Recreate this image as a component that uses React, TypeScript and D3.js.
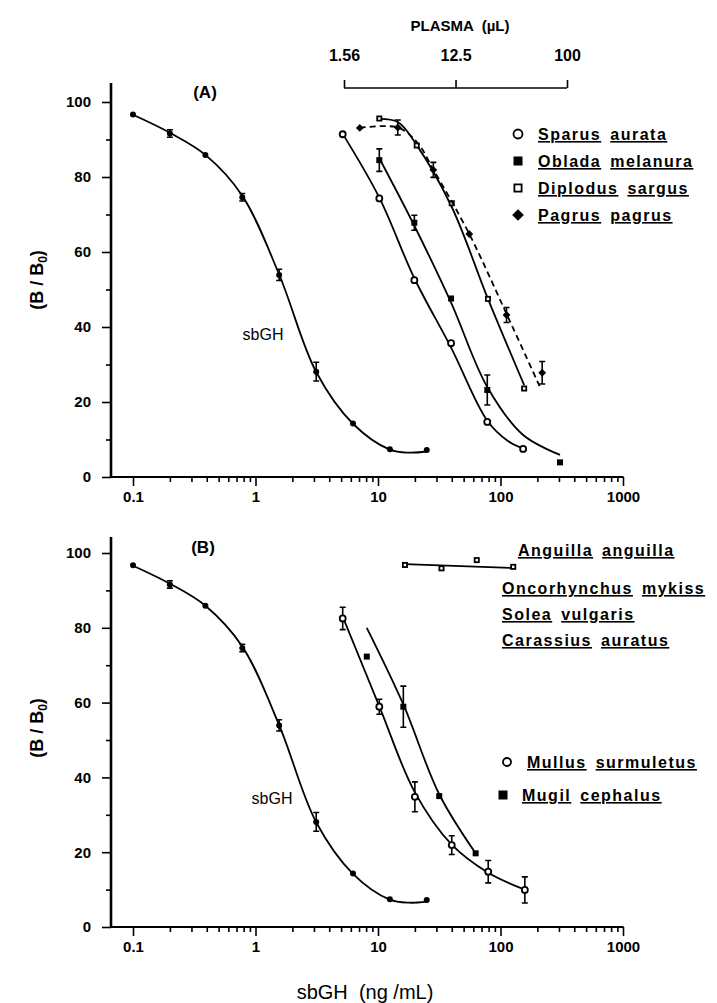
import React, { useEffect, useRef } from "react";
import * as d3 from "d3";

const W = 717;
const H = 1003;
const FONT = "'Liberation Sans', Arial, Helvetica, sans-serif";

// sbGH standard curve (same in both panels)
const sbghDose = [0.1, 0.2, 0.39, 0.78, 1.56, 3.13, 6.25, 12.5, 25];
const sbghB = [96.7, 91.6, 85.9, 74.6, 53.9, 28.1, 14.3, 7.4, 7.2];
const sbghErr = [0, 1, 0, 1, 1.5, 2.5, 0, 0, 0];
const sbghFitX = [0.1, 0.2, 0.39, 0.78, 1.56, 3.13, 6.25, 12.5, 18, 25];
const sbghFitY = [96.6, 91.8, 85.9, 75, 54, 28, 14.2, 7.3, 6.5, 6.8];

// panel A species (plasma dilutions, plotted on ng/mL scale)
const sparusDose = [5.15, 10.25, 19.8, 39.5, 78, 153];
const sparusB = [91.4, 74.3, 52.5, 35.7, 14.7, 7.5];
const sparusFitX = [5.15, 10.25, 19.8, 39.5, 78, 115, 153];
const sparusFitY = [91.5, 74.5, 53, 34.5, 15, 9.6, 7.6];

const obladaDose = [10.25, 19.8, 39.5, 78, 306];
const obladaB = [84.5, 67.8, 47.6, 23.2, 3.9];
const obladaErr = [3, 2, 0, 4, 0];
const obladaFitX = [10.25, 19.8, 39.5, 78, 153, 306];
const obladaFitY = [85, 67, 46.5, 24, 11.2, 5.9];

const diplodusDose = [10.25, 20.7, 40, 79, 156];
const diplodusB = [95.6, 88.4, 73, 47.5, 23.6];
const diplodusFitX = [10.25, 14.6, 20.7, 40, 79, 156];
const diplodusFitY = [95.5, 94.6, 88.5, 72, 47.5, 24.5];

const pagrusDose = [7.1, 14.5, 28.3, 55.6, 112, 219];
const pagrusB = [93.1, 93.2, 81.9, 64.8, 43.2, 27.8];
const pagrusErr = [0, 2, 2, 0, 2, 3];
const pagrusFitX = [7.1, 14.5, 20.9, 28.3, 55.6, 112, 210];
const pagrusFitY = [93.1, 93.2, 89.2, 82, 64.8, 43.5, 24];

// panel B species
const flatDose = [16.6, 33, 64, 127];
const flatB = [96.8, 95.9, 98.1, 96.3];
const flatFitX = [16.6, 127];
const flatFitY = [97, 96];

const mullusDose = [5.15, 10.25, 20, 40, 79.4, 158];
const mullusB = [82.5, 58.9, 34.8, 21.9, 14.8, 9.9];
const mullusErr = [3, 2, 4, 2.5, 3, 3.5];
const mullusFitX = [5.15, 10.25, 20, 40, 79.4, 158];
const mullusFitY = [83, 59, 36, 22, 14.5, 10];

const mugilDose = [8.1, 16.1, 31.6, 62.7];
const mugilB = [72.3, 58.9, 35, 19.7];
const mugilErr = [0, 5.5, 0, 0];
const mugilFitX = [8.1, 16.1, 31.6, 62.7];
const mugilFitY = [80, 59.5, 35.5, 19.7];

const xMajor = [0.1, 1, 10, 100, 1000];
const yMajor = [0, 20, 40, 60, 80, 100];
const yMinor = [10, 30, 50, 70, 90];
const plasmaTicks = [1.56, 12.5, 100];

const legendA = [
  ["Sparus", "aurata"],
  ["Oblada", "melanura"],
  ["Diplodus", "sargus"],
  ["Pagrus", "pagrus"],
];
const legendAMarker = ["openCircle", "filledSquare", "openSquare", "filledDiamond"];
const speciesListB = [
  ["Anguilla", "anguilla"],
  ["Oncorhynchus", "mykiss"],
  ["Solea", "vulgaris"],
  ["Carassius", "auratus"],
];
const legendB = [
  ["Mullus", "surmuletus"],
  ["Mugil", "cephalus"],
];

const zip = (xs: number[], ys: number[]) => xs.map((d, i) => [d, ys[i]]);

function marker(g: any, type: string, cx: number, cy: number, s: number) {
  if (type === "openCircle") {
    g.append("circle").attr("cx", cx).attr("cy", cy).attr("r", s / 2)
      .attr("fill", "#fff").attr("stroke", "#000").attr("stroke-width", 1.8);
  } else if (type === "filledCircle") {
    g.append("circle").attr("cx", cx).attr("cy", cy).attr("r", s / 2).attr("fill", "#000");
  } else if (type === "filledSquare") {
    g.append("rect").attr("x", cx - s / 2).attr("y", cy - s / 2).attr("width", s).attr("height", s).attr("fill", "#000");
  } else if (type === "openSquare") {
    g.append("rect").attr("x", cx - s / 2 + 0.9).attr("y", cy - s / 2 + 0.9).attr("width", s - 1.8).attr("height", s - 1.8)
      .attr("fill", "#fff").attr("stroke", "#000").attr("stroke-width", 1.8);
  } else if (type === "filledDiamond") {
    const r = s * 0.65;
    g.append("path").attr("d", `M${cx},${cy - r}L${cx + r},${cy}L${cx},${cy + r}L${cx - r},${cy}Z`).attr("fill", "#000");
  }
}

function underlinedLabel(g: any, words: string[], x: number, y: number) {
  const t = g.append("text").attr("x", x).attr("y", y)
    .attr("font-family", FONT).attr("font-size", 16).attr("font-weight", "bold")
    .attr("letter-spacing", 1.5).attr("fill", "#000");
  words.forEach((w, i) => {
    t.append("tspan").attr("dx", i === 0 ? 0 : 9).style("text-decoration", "underline").text(w);
  });
}

const App = () => {
  const ref = useRef<SVGSVGElement>(null);

  useEffect(() => {
    const svg = d3.select(ref.current);
    svg.selectAll("*").remove();

    const x = d3.scaleLog().domain([0.1, 1000]).range([133, 623]);
    const xMinor: number[] = [];
    [-1, 0, 1, 2].forEach((e) => {
      for (let m = 2; m <= 9; m++) xMinor.push(m * Math.pow(10, e));
    });
    const line = d3.line<number[]>().curve(d3.curveCatmullRom.alpha(0.5));

    const panels = [
      {
        zero: 477, top100: 102, axisTop: 83, name: "(A)", nameX: 205, nameY: 98,
        sbghX: 263, sbghY: 340, titleY: 280,
        series: [
          { dose: sbghDose, b: sbghB, err: sbghErr, fx: sbghFitX, fy: sbghFitY, m: "filledCircle", dash: false },
          { dose: sparusDose, b: sparusB, err: null, fx: sparusFitX, fy: sparusFitY, m: "openCircle", dash: false },
          { dose: obladaDose, b: obladaB, err: obladaErr, fx: obladaFitX, fy: obladaFitY, m: "filledSquare", dash: false },
          { dose: diplodusDose, b: diplodusB, err: null, fx: diplodusFitX, fy: diplodusFitY, m: "openSquare", dash: false },
          { dose: pagrusDose, b: pagrusB, err: pagrusErr, fx: pagrusFitX, fy: pagrusFitY, m: "filledDiamond", dash: true },
        ],
      },
      {
        zero: 927, top100: 553, axisTop: 537, name: "(B)", nameX: 203, nameY: 553,
        sbghX: 272, sbghY: 804, titleY: 728,
        series: [
          { dose: sbghDose, b: sbghB, err: sbghErr, fx: sbghFitX, fy: sbghFitY, m: "filledCircle", dash: false },
          { dose: flatDose, b: flatB, err: null, fx: flatFitX, fy: flatFitY, m: "openSquare", dash: false },
          { dose: mullusDose, b: mullusB, err: mullusErr, fx: mullusFitX, fy: mullusFitY, m: "openCircle", dash: false },
          { dose: mugilDose, b: mugilB, err: mugilErr, fx: mugilFitX, fy: mugilFitY, m: "filledSquare", dash: false },
        ],
      },
    ];

    panels.forEach((p) => {
      const y = d3.scaleLinear().domain([0, 100]).range([p.zero, p.top100]);
      const g = svg.append("g");

      // axes
      const yAx = g.append("g").attr("transform", "translate(111,0)");
      yAx.call(d3.axisLeft(y).tickValues(yMajor).tickSize(9).tickPadding(11).tickFormat((d: any) => String(d)));
      yAx.append("g").call(d3.axisLeft(y).tickValues(yMinor).tickSize(5).tickFormat(() => ""));
      yAx.selectAll(".domain").remove();
      yAx.selectAll("line").attr("stroke-width", 1.6);
      yAx.selectAll("text").attr("font-family", FONT).attr("font-size", 15).attr("font-weight", "bold").attr("fill", "#000");

      const xAx = g.append("g").attr("transform", `translate(0,${p.zero})`);
      xAx.call(d3.axisBottom(x).tickValues(xMajor).tickSize(9).tickPadding(5).tickFormat((d: any) => String(d)));
      xAx.append("g").call(d3.axisBottom(x).tickValues(xMinor).tickSize(5).tickFormat(() => ""));
      xAx.selectAll(".domain").remove();
      xAx.selectAll("line").attr("stroke-width", 1.6);
      xAx.selectAll("text").attr("font-family", FONT).attr("font-size", 15).attr("font-weight", "bold").attr("fill", "#000");

      g.append("line").attr("x1", 111).attr("x2", 111).attr("y1", p.axisTop).attr("y2", p.zero + 1)
        .attr("stroke", "#000").attr("stroke-width", 2.6);
      g.append("line").attr("x1", 110).attr("x2", 623.5).attr("y1", p.zero).attr("y2", p.zero)
        .attr("stroke", "#000").attr("stroke-width", 2.2);

      // y title
      const yt = g.append("text").attr("transform", `translate(43,${p.titleY}) rotate(-90)`)
        .attr("text-anchor", "middle").attr("font-family", FONT).attr("font-size", 18).attr("font-weight", "bold");
      yt.append("tspan").text("(B / B");
      yt.append("tspan").attr("font-size", 12).attr("dy", 4).text("0");
      yt.append("tspan").attr("dy", -4).text(")");

      g.append("text").attr("x", p.nameX).attr("y", p.nameY).attr("text-anchor", "middle")
        .attr("font-family", FONT).attr("font-size", 17).attr("font-weight", "bold").text(p.name);
      g.append("text").attr("x", p.sbghX).attr("y", p.sbghY).attr("text-anchor", "middle")
        .attr("font-family", FONT).attr("font-size", 16).text("sbGH");

      // fitted curves and points
      p.series.forEach((s) => {
        const pts = zip(s.fx, s.fy).map((d) => [x(d[0]), y(d[1])]);
        g.append("path").attr("d", line(pts as any)).attr("fill", "none").attr("stroke", "#000")
          .attr("stroke-width", 1.8).attr("stroke-dasharray", s.dash ? "6,4" : null);
        s.dose.forEach((d, i) => {
          const cx = x(d);
          const cy = y(s.b[i]);
          const e = s.err ? s.err[i] : 0;
          if (e > 0) {
            const y1 = y(s.b[i] - e);
            const y2 = y(s.b[i] + e);
            g.append("path").attr("d", `M${cx},${y1}V${y2}M${cx - 3},${y1}H${cx + 3}M${cx - 3},${y2}H${cx + 3}`)
              .attr("stroke", "#000").attr("stroke-width", 1.6).attr("fill", "none");
          }
          marker(g, s.m, cx, cy, 6);
        });
      });
    });

    // top plasma axis
    const plasma = d3.scaleLog().domain([1.56, 100]).range([344, 567]);
    const pAx = svg.append("g").attr("transform", "translate(0,88)");
    pAx.call(d3.axisTop(plasma).tickValues(plasmaTicks).tickSize(8).tickPadding(19).tickFormat((d: any) => String(d)));
    pAx.select(".domain").remove();
    pAx.selectAll("line").attr("stroke-width", 1.6);
    pAx.selectAll("text").attr("font-family", FONT).attr("font-size", 16).attr("font-weight", "bold").attr("fill", "#000");
    pAx.append("line").attr("x1", 344).attr("x2", 567).attr("stroke", "#000").attr("stroke-width", 1.4);
    svg.append("text").attr("x", 460).attr("y", 31).attr("text-anchor", "middle")
      .attr("font-family", FONT).attr("font-size", 15).attr("font-weight", "bold")
      .attr("xml:space", "preserve").text("PLASMA  (\u00b5L)");

    // legend panel A
    legendA.forEach((words, i) => {
      const cy = 134 + i * 27;
      marker(svg, legendAMarker[i], 518, cy, 9);
      underlinedLabel(svg, words, 538, cy + 6);
    });

    // panel B species list (no displacement)
    const listPos = [[518, 550], [502, 588], [502, 614], [502, 640]];
    speciesListB.forEach((words, i) => underlinedLabel(svg, words, listPos[i][0], listPos[i][1] + 6));

    // legend panel B
    marker(svg, "openCircle", 507, 762, 8);
    underlinedLabel(svg, legendB[0], 527, 768);
    marker(svg, "filledSquare", 503, 795, 9);
    underlinedLabel(svg, legendB[1], 522, 801);

    // x title
    svg.append("text").attr("x", 365).attr("y", 999).attr("text-anchor", "middle")
      .attr("font-family", FONT).attr("font-size", 20).attr("xml:space", "preserve").text("sbGH  (ng /mL)");
  }, []);

  return (
    <svg ref={ref} width={W} height={H} style={{ position: "absolute", left: 0, top: 0, background: "#fff" }} />
  );
};

export default App;
